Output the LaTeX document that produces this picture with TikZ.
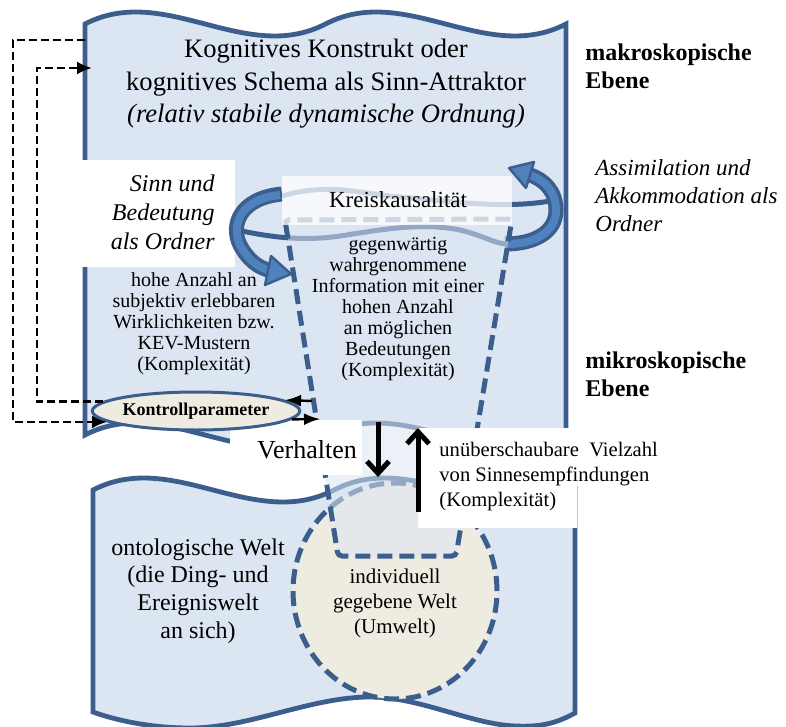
\documentclass[tikz,border=0pt]{standalone}
\usepackage{fontspec}
\setmainfont{Liberation Serif}
\usetikzlibrary{arrows.meta,shapes.geometric}

\definecolor{waveFill}{HTML}{DCE6F2}
\definecolor{waveLine}{HTML}{3B5E8C}
\definecolor{beige}{HTML}{EEECE1}
\definecolor{bandBlue}{HTML}{4F81BD}

\tikzset{
  wave/.style={fill=waveFill, draw=waveLine, line width=2.4pt, line join=miter},
  dashborder/.style={draw=waveLine, line width=2.5pt, dash pattern=on 7.5pt off 3.5pt},
  fbline/.style={draw=black, line width=1.3pt, dash pattern=on 4pt off 2pt, -{Latex[length=7.5pt,width=6.5pt]}},
  thinarrow/.style={draw=black, line width=1.2pt, -{Latex[length=8pt,width=6pt]}},
  bigarrow/.style={draw=black, line width=2.5pt, -{Straight Barb[length=6pt,width=11pt]}},
  band/.style={line width=7.5pt, draw=waveLine},
  bandcore/.style={line width=4pt, draw=bandBlue},
  bandhead/.style={fill=bandBlue, draw=waveLine, line width=1.2pt, line join=round},
  ringline/.style={draw=waveLine, line width=2.5pt},
  txt/.style={inner sep=0pt, align=center},
}

\begin{document}
\begin{tikzpicture}[x=0.5pt,y=-0.5pt]
\useasboundingbox (0,0) rectangle (786,727);

% cognitive level (double wave)
\path[wave] (85,24) .. controls (165,-17.5) and (245,65.5) .. (325.5,24)
  .. controls (405.5,-17.5) and (485.5,65.5) .. (566,24) -- (566,435)
  .. controls (485.5,476.5) and (405.5,393.5) .. (325.5,435)
  .. controls (245,476.5) and (165,393.5) .. (85,435) -- cycle;

% ontological world
\path[wave] (93,490) .. controls (173,448.5) and (253,531.5) .. (334,490)
  .. controls (414,448.5) and (494,531.5) .. (575,490) -- (575,713)
  .. controls (555,724) and (540,727) .. (515,726)
  .. controls (470,724) and (420,697) .. (370,697)
  .. controls (310,697) and (250,728) .. (190,728)
  .. controls (150,728) and (115,720) .. (93,712) -- cycle;

% individually given world
\node[ellipse, fill=beige, dashborder, minimum width=102pt, minimum height=108pt, inner sep=0pt] (umwelt) at (395,591) {};

% box behind "Sinn und Bedeutung"
\fill[white] (75,160) rectangle (235,267);

% ring of circular causality
\draw[ringline] (282,196) .. controls (330,182) and (360,194) .. (400,197)
  .. controls (450,201) and (505,210) .. (556,200);
\draw[ringline] (237,230) .. controls (265,236) and (300,242) .. (340,236)
  .. controls (380,230) and (420,222) .. (460,230)
  .. controls (485,236) and (495,244) .. (508,244);

% left curved arrow
\draw[band] (282,194) .. controls (240,198) and (230,225) .. (240,245)
  .. controls (248,260) and (258,267) .. (268,270);
\draw[bandcore] (280,195) .. controls (240,199) and (231,225) .. (240,245)
  .. controls (248,260) and (258,267) .. (268,270);
\filldraw[bandhead] (271,256) -- (291,274) -- (265,285) -- cycle;

% right curved arrow
\draw[band] (505,244) .. controls (535,244) and (556,232) .. (556,210)
  .. controls (556,192) and (545,180) .. (530,175);
\draw[bandcore] (507,244) .. controls (535,244) and (556,232) .. (556,210)
  .. controls (556,192) and (545,180) .. (530,175);
\filldraw[bandhead] (534,162) -- (509,168) -- (526,188) -- cycle;

% funnel of perceived information
\fill[waveFill, fill opacity=0.55] (285,220) -- (338,556) -- (456,556) -- (512,219) -- cycle;
\draw[dashborder, rounded corners=2pt] (285,220) -- (338,556) -- (456,556) -- (512,219) -- cycle;

% label box of the ring
\fill[white, fill opacity=0.75] (282,176) rectangle (512,225);
\node[txt, font=\fontsize{11.5}{13}\selectfont] (kreis) at (398,200) {Kreiskausalität};

% white label boxes between the levels
\fill[white] (230,420) rectangle (362,475);
\fill[white] (418,428) rectangle (577,528);

% behaviour and sensations
\coordinate (vTop) at (378,422);
\coordinate (vBot) at (378,477);
\draw[bigarrow] (vTop) -- (vBot);
\coordinate (sBot) at (418,512);
\coordinate (sTop) at (418,428);
\draw[bigarrow] (sBot) -- (sTop);

% control parameter
\node[ellipse, draw=waveLine, line width=1.5pt, fill=beige, minimum width=93pt, minimum height=19pt, inner sep=0pt,
      font=\fontsize{9}{10}\selectfont\bfseries] (kp) at (196,411) {Kontrollparameter};

% feedback loops
\coordinate (fbOutStart) at (85,40);
\coordinate (fbOutCorner) at (13,40);
\draw[fbline] (fbOutStart) -- (fbOutCorner) |- (kp.187);
\coordinate (fbInCorner) at (37,68);
\coordinate (fbInEnd) at (92,68);
\draw[fbline] (kp.174) -| (fbInCorner) -- (fbInEnd);

\coordinate (ctrlIn) at (312,401);
\draw[thinarrow] (ctrlIn) -- (kp.7);
\coordinate (ctrlOut) at (320,419);
\draw[thinarrow] (kp.-5) -- (ctrlOut);

% texts
\node[txt, font=\fontsize{13.3}{16.25}\selectfont] (title) at (326,84)
  {Kognitives Konstrukt oder\\kognitives Schema als Sinn-Attraktor\\\textit{(relativ stabile dynamische Ordnung)}};
\node[txt, align=left, anchor=west, font=\fontsize{12}{14}\selectfont\bfseries] (makro) at (585,66) {makroskopische\\Ebene};
\node[txt, align=left, anchor=west, font=\fontsize{12}{14}\selectfont\bfseries] (mikro) at (585,374) {mikroskopische\\Ebene};
\node[txt, align=left, anchor=west, font=\fontsize{11.5}{14}\selectfont\itshape] (assim) at (595,196)
  {Assimilation und\\Akkommodation als\\Ordner};
\node[txt, align=right, anchor=east, font=\fontsize{12}{14.5}\selectfont\itshape] (sinn) at (215,212)
  {Sinn und\\Bedeutung\\als Ordner};
\node[txt, font=\fontsize{10}{10.5}\selectfont] (hohe) at (194,324)
  {hohe Anzahl an\\subjektiv erlebbaren\\Wirklichkeiten bzw.\\KEV-Mustern\\(Komplexität)};
\node[txt, font=\fontsize{10}{10.5}\selectfont] (info) at (398,309)
  {gegenwärtig\\wahrgenommene\\Information mit einer\\hohen Anzahl\\an möglichen\\Bedeutungen\\(Komplexität)};
\node[txt, font=\fontsize{13}{15}\selectfont] (verh) at (307,450) {Verhalten};
\node[txt, align=left, anchor=west, font=\fontsize{10.3}{12.5}\selectfont] (sinnes) at (439,477)
  {unüberschaubare\ \ Vielzahl\\von Sinnesempfindungen\\(Komplexität)};
\node[txt, font=\fontsize{12}{13.8}\selectfont] (onto) at (198,591)
  {ontologische Welt\\(die Ding- und\\Ereigniswelt\\an sich)};
\node[txt, font=\fontsize{10.5}{12.5}\selectfont] (indiv) at (395,603)
  {individuell\\gegebene Welt\\(Umwelt)};
\end{tikzpicture}
\end{document}
